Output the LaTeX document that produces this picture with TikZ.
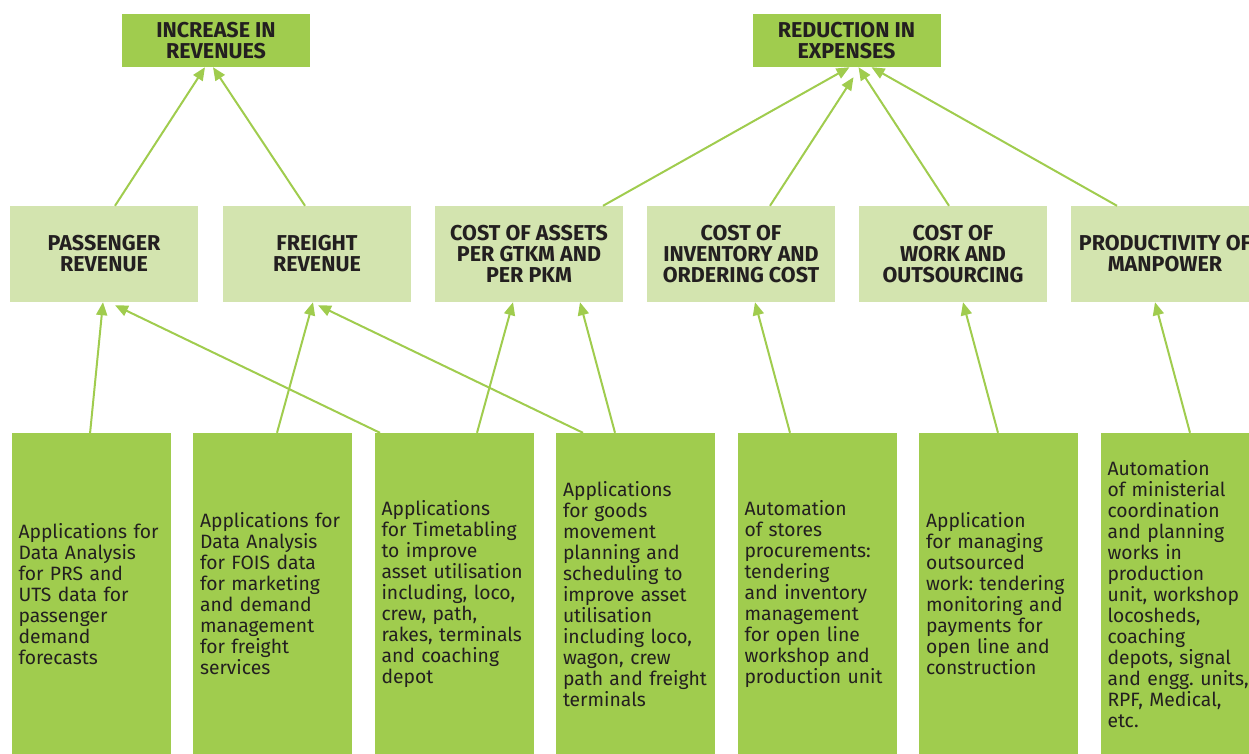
\documentclass[tikz,border=0pt]{standalone}
\usepackage{fontspec}
\setmainfont{Fira Sans}
\newfontfamily\headfont{Fira Sans}
\frenchspacing
\usetikzlibrary{arrows.meta}
\definecolor{leafgreen}{HTML}{A0CC4E}
\definecolor{palegreen}{HTML}{D3E4AF}
\definecolor{inkgrey}{HTML}{231F20}
\tikzset{
  goalbox/.style={fill=leafgreen, minimum width=188pt, minimum height=53pt, inner sep=0pt, align=center, text=inkgrey, font=\headfont\bfseries\fontsize{21.5}{21}\selectfont},
  factorbox/.style={fill=palegreen, minimum width=188pt, minimum height=96pt, inner sep=0pt, align=center, text=inkgrey, font=\headfont\bfseries\fontsize{21.5}{21}\selectfont},
  appbox/.style={fill=leafgreen, minimum width=159pt, minimum height=322pt, text width=145pt, inner sep=7pt, align=left, text=inkgrey, font=\fontsize{19.3}{21}\selectfont},
  link/.style={draw=leafgreen, line width=2pt, -{Triangle[length=13pt,width=11pt]}}
}

\begin{document}
\begin{tikzpicture}[x=1pt,y=-1pt]
\useasboundingbox (0,0) rectangle (1249,753);
\clip (0,0) rectangle (1249,753);
\node[goalbox] (inc) at (216,40.5) {INCREASE IN\\REVENUES};
\node[goalbox] (red) at (846.5,40.5) {REDUCTION IN\\EXPENSES};

\node[factorbox] (m1) at (104,254) {PASSENGER\\REVENUE};
\node[factorbox] (m2) at (317,254) {FREIGHT\\REVENUE};
\node[factorbox] (m3) at (529,254) {COST OF ASSETS\\PER GTKM AND\\PER PKM};
\node[factorbox] (m4) at (741,254) {COST OF\\INVENTORY AND\\ORDERING COST};
\node[factorbox] (m5) at (953,254) {COST OF\\WORK AND\\OUTSOURCING};
\node[factorbox] (m6) at (1165,254) {PRODUCTIVITY OF\\MANPOWER};

\node[appbox] (b1) at (91,594) {Applications for\\Data Analysis\\for PRS and\\UTS data for\\passenger\\demand\\forecasts};
\node[appbox] (b2) at (272.5,594) {Applications for\\Data Analysis\\for FOIS data\\for marketing\\and demand\\management\\for freight\\services};
\node[appbox] (b3) at (454,594) {Applications\\for Timetabling\\to improve\\asset utilisation\\including, loco,\\crew, path,\\rakes, terminals\\and coaching\\depot};
\node[appbox] (b4) at (635.5,594) {Applications\\for goods\\movement\\planning and\\scheduling to\\improve asset\\utilisation\\including loco,\\wagon, crew\\path and freight\\terminals};
\node[appbox] (b5) at (817,594) {Automation\\of stores\\procurements:\\tendering\\and inventory\\management\\for open line\\workshop and\\production unit};
\node[appbox] (b6) at (998.5,594) {Application\\for managing\\outsourced\\work: tendering\\monitoring and\\payments for\\open line and\\construction};
\node[appbox] (b7) at (1180,594) {Automation\\of ministerial\\coordination\\and planning\\works in\\production\\unit, workshop\\locosheds,\\coaching\\depots, signal\\and engg. units,\\RPF, Medical,\\etc.};

\draw[link] ([xshift=11pt]m1.north) -- ([xshift=-11pt]inc.south);
\draw[link] ([xshift=-12pt]m2.north) -- ([xshift=-3pt]inc.south);
\draw[link] ([xshift=74pt]m3.north) -- ([xshift=3pt]red.south);
\draw[link] ([xshift=29pt]m4.north) -- ([xshift=7pt,yshift=-10pt]red.south);
\draw[link] ([xshift=-4pt]m5.north) -- ([xshift=12pt]red.south);
\draw[link] ([xshift=-48pt]m6.north) -- ([xshift=25pt]red.south);

\draw[link] ([xshift=-1pt,yshift=-1pt]b1.north) -- ([xshift=-1pt]m1.south);
\draw[link] ([xshift=4.5pt]b2.north) -- ([xshift=-4pt]m2.south);
\draw[link] ([xshift=-74pt]b3.north) -- ([xshift=11pt,yshift=-3pt]m1.south);
\draw[link] ([xshift=23pt]b3.north) -- ([xshift=-16pt]m3.south);
\draw[link] ([xshift=-52.5pt]b4.north) -- ([xshift=1pt,yshift=-3pt]m2.south);
\draw[link] ([xshift=-20.5pt]b4.north) -- ([xshift=51pt]m3.south);
\draw[link] ([xshift=-27pt]b5.north) -- ([xshift=14pt]m4.south);
\draw[link] ([xshift=-0.5pt]b6.north) -- ([xshift=10pt]m5.south);
\draw[link] ([xshift=10pt]b7.north) -- ([xshift=-10pt]m6.south);
\end{tikzpicture}
\end{document}
